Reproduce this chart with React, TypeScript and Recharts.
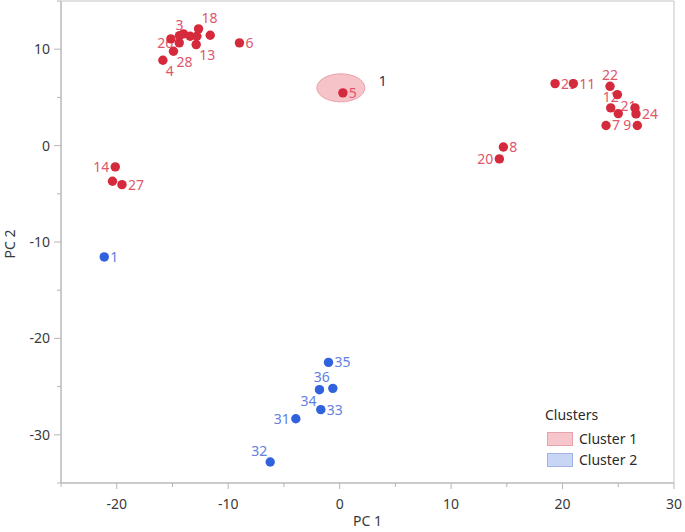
import React from 'react';
import { ScatterChart, Scatter, XAxis, YAxis, ReferenceArea, Legend, Label } from 'recharts';

// Cluster 1 (red)
const c1X = [-14.39, -14.37, -15.14, -14.01, -13.41, -12.81, -12.66, -11.61, -12.87, -14.91, -15.86, -8.99, 0.29, 19.33, 20.97, 24.26, 24.32, 24.92, 25.0, 26.5, 26.59, 23.9, 26.71, 14.69, 14.33, -20.13, -20.38, -19.53];
const c1Y = [10.66, 11.41, 11.07, 11.59, 11.34, 11.34, 12.11, 11.45, 10.48, 9.79, 8.85, 10.66, 5.47, 6.43, 6.43, 6.15, 3.91, 5.29, 3.32, 3.91, 3.29, 2.08, 2.08, -0.14, -1.38, -2.21, -3.7, -4.05];
const c1Labels = ['26', '3', '', '', '', '', '18', '', '13', '28', '4', '6', '5', '29', '11', '22', '12', '21', '', '', '24', '7', '9', '8', '20', '14', '', '27'];

// Cluster 2 (blue)
const c2X = [-21.12, -1.0, -0.61, -1.81, -1.69, -3.93, -6.23];
const c2Y = [-11.55, -22.49, -25.18, -25.32, -27.39, -28.33, -32.82];
const c2Labels = ['1', '35', '36', '34', '33', '31', '32'];

// Highlighted cluster-1 centroid ellipse
const hlX = [0.11];
const hlY = [5.99];
const hlLabel = ['1'];

const xTicks = [-25, -20, -15, -10, -5, 0, 5, 10, 15, 20, 25, 30];
const yTicks = [-35, -30, -25, -20, -15, -10, -5, 0, 5, 10, 15];
const xMajor = [-20, -10, 0, 10, 20, 30];
const yMajor = [-30, -20, -10, 0, 10];
const clusterNames = ['Cluster 1', 'Cluster 2'];

const FONT = '"Noto Sans", "Open Sans", sans-serif';
const RED = '#d42a3b';
const RED_TXT = '#e0566b';
const BLUE = '#2f62dc';
const BLUE_TXT = '#6281e2';
const AXIS = '#b5b5b5';
const TICK_TXT = '#3a3a3a';

const SIDE1: Record<string, string> = {
  '3': 'top', '18': 'tr', '13': 'br', '26': 'left', '28': 'br', '4': 'br', '6': 'right', '5': 'right',
  '29': 'right', '11': 'right', '22': 'top', '21': 'br', '12': 'top', '24': 'right', '7': 'right', '9': 'left',
  '8': 'right', '20': 'left', '14': 'left', '27': 'right',
};
const SIDE2: Record<string, string> = {
  '1': 'right', '35': 'right', '36': 'tl', '34': 'bl', '33': 'right', '31': 'left', '32': 'tl',
};

const c1Data = c1X.map((x, i) => ({ x, y: c1Y[i], label: c1Labels[i] }));
const c2Data = c2X.map((x, i) => ({ x, y: c2Y[i], label: c2Labels[i] }));
const hlData = hlX.map((x, i) => ({ x, y: hlY[i], label: hlLabel[i] }));

function labelPos(side: string, cx: number, cy: number) {
  switch (side) {
    case 'left': return { x: cx - 6, y: cy, a: 'end' };
    case 'top': return { x: cx, y: cy - 11, a: 'middle' };
    case 'tr': return { x: cx + 3, y: cy - 11, a: 'start' };
    case 'tl': return { x: cx - 3, y: cy - 11, a: 'end' };
    case 'br': return { x: cx + 3, y: cy + 11, a: 'start' };
    case 'bl': return { x: cx - 3, y: cy + 11, a: 'end' };
    default: return { x: cx + 6, y: cy, a: 'start' };
  }
}

const makeShape = (fill: string, txt: string, sides: Record<string, string>) => (props: any) => {
  const { cx, cy, payload } = props;
  const lab = payload.label;
  const p = labelPos(sides[lab] || 'right', cx, cy);
  return (
    <g>
      <circle cx={cx} cy={cy} r={4.7} fill={fill} />
      {lab ? (
        <text x={p.x} y={p.y} dy="0.35em" textAnchor={p.a as any} fontSize={14} fontFamily={FONT} fill={txt}>
          {lab}
        </text>
      ) : null}
    </g>
  );
};

const ellipseShape = (props: any) => {
  const { cx, cy, payload } = props;
  return (
    <g>
      <ellipse cx={cx} cy={cy} rx={24} ry={14} fill="#f5c3c8" stroke="#eaa0a9" strokeWidth={1} />
      <text x={cx + 42} y={cy - 7} dy="0.35em" textAnchor="middle" fontSize={14} fontFamily={FONT} fill="#2b2f63">
        {payload.label}
      </text>
    </g>
  );
};

const XTick = (props: any) => {
  const { x, y, payload } = props;
  const major = xMajor.includes(payload.value);
  return (
    <g>
      <line x1={x} y1={y} x2={x} y2={y + (major ? 6 : 4)} stroke={AXIS} />
      {major ? (
        <text x={x} y={y + 21} dy="0.35em" textAnchor="middle" fontSize={14} fontFamily={FONT} fill={TICK_TXT}>
          {payload.value}
        </text>
      ) : null}
    </g>
  );
};

const YTick = (props: any) => {
  const { x, y, payload } = props;
  const major = yMajor.includes(payload.value);
  return (
    <g>
      <line x1={x - (major ? 7 : 4)} y1={y} x2={x} y2={y} stroke={AXIS} />
      {major ? (
        <text x={x - 11} y={y} dy="0.35em" textAnchor="end" fontSize={14} fontFamily={FONT} fill={TICK_TXT}>
          {payload.value}
        </text>
      ) : null}
    </g>
  );
};

const LegendBox = () => (
  <div style={{ fontFamily: FONT, fontSize: 14, color: '#2a2a2a', lineHeight: '20px' }}>
    <div style={{ marginBottom: 3 }}>Clusters</div>
    {clusterNames.map((n, i) => (
      <div key={n} style={{ display: 'flex', alignItems: 'center', height: 21 }}>
        <span
          style={{
            display: 'inline-block',
            width: 24,
            height: 12,
            marginLeft: 2,
            marginRight: 6,
            background: i === 0 ? '#f6c6cc' : '#c9d5f5',
            border: `1px solid ${i === 0 ? '#e8a2ab' : '#a0b4ea'}`,
          }}
        />
        <span>{n}</span>
      </div>
    ))}
  </div>
);

export default function App() {
  return (
    <div style={{ position: 'absolute', left: 0, top: 0, width: 685, height: 532, background: '#fff' }}>
      <ScatterChart width={685} height={532} margin={{ top: 1, right: 11, bottom: 0, left: 0 }}>
        <ReferenceArea x1={-25} x2={30} y1={-35} y2={15} fill="none" stroke="#c4c4c4" strokeWidth={1} ifOverflow="visible" />
        <XAxis
          type="number"
          dataKey="x"
          domain={[-25, 30]}
          ticks={xTicks}
          interval={0}
          allowDataOverflow
          height={49}
          tickSize={0}
          tickMargin={0}
          tickLine={false}
          axisLine={{ stroke: AXIS }}
          tick={<XTick />}
        >
          <Label
            content={(p: any) => {
              const vb = p.viewBox || { x: 61, width: 613 };
              return (
                <text x={vb.x + vb.width / 2} y={526} textAnchor="middle" fontSize={14} fontFamily={FONT} fill={TICK_TXT}>
                  PC 1
                </text>
              );
            }}
          />
        </XAxis>
        <YAxis
          type="number"
          dataKey="y"
          domain={[-35, 15]}
          ticks={yTicks}
          interval={0}
          allowDataOverflow
          width={61}
          tickSize={0}
          tickMargin={0}
          tickLine={false}
          axisLine={{ stroke: AXIS }}
          tick={<YTick />}
        >
          <Label
            content={(p: any) => {
              const vb = p.viewBox || { y: 1, height: 482 };
              const cy = vb.y + vb.height / 2 + 2;
              return (
                <text x={15} y={cy} transform={`rotate(-90 15 ${cy})`} textAnchor="middle" fontSize={14} fontFamily={FONT} fill={TICK_TXT}>
                  PC 2
                </text>
              );
            }}
          />
        </YAxis>
        <Legend
          layout="horizontal"
          verticalAlign="middle"
          align="center"
          content={() => <LegendBox />}
          wrapperStyle={{ left: 545, top: 405, width: 120, height: 70 }}
        />
        <Scatter name="centroid" data={hlData} shape={ellipseShape} isAnimationActive={false} legendType="none" />
        <Scatter name="Cluster 1" data={c1Data} shape={makeShape(RED, RED_TXT, SIDE1)} isAnimationActive={false} />
        <Scatter name="Cluster 2" data={c2Data} shape={makeShape(BLUE, BLUE_TXT, SIDE2)} isAnimationActive={false} />
      </ScatterChart>
    </div>
  );
}
